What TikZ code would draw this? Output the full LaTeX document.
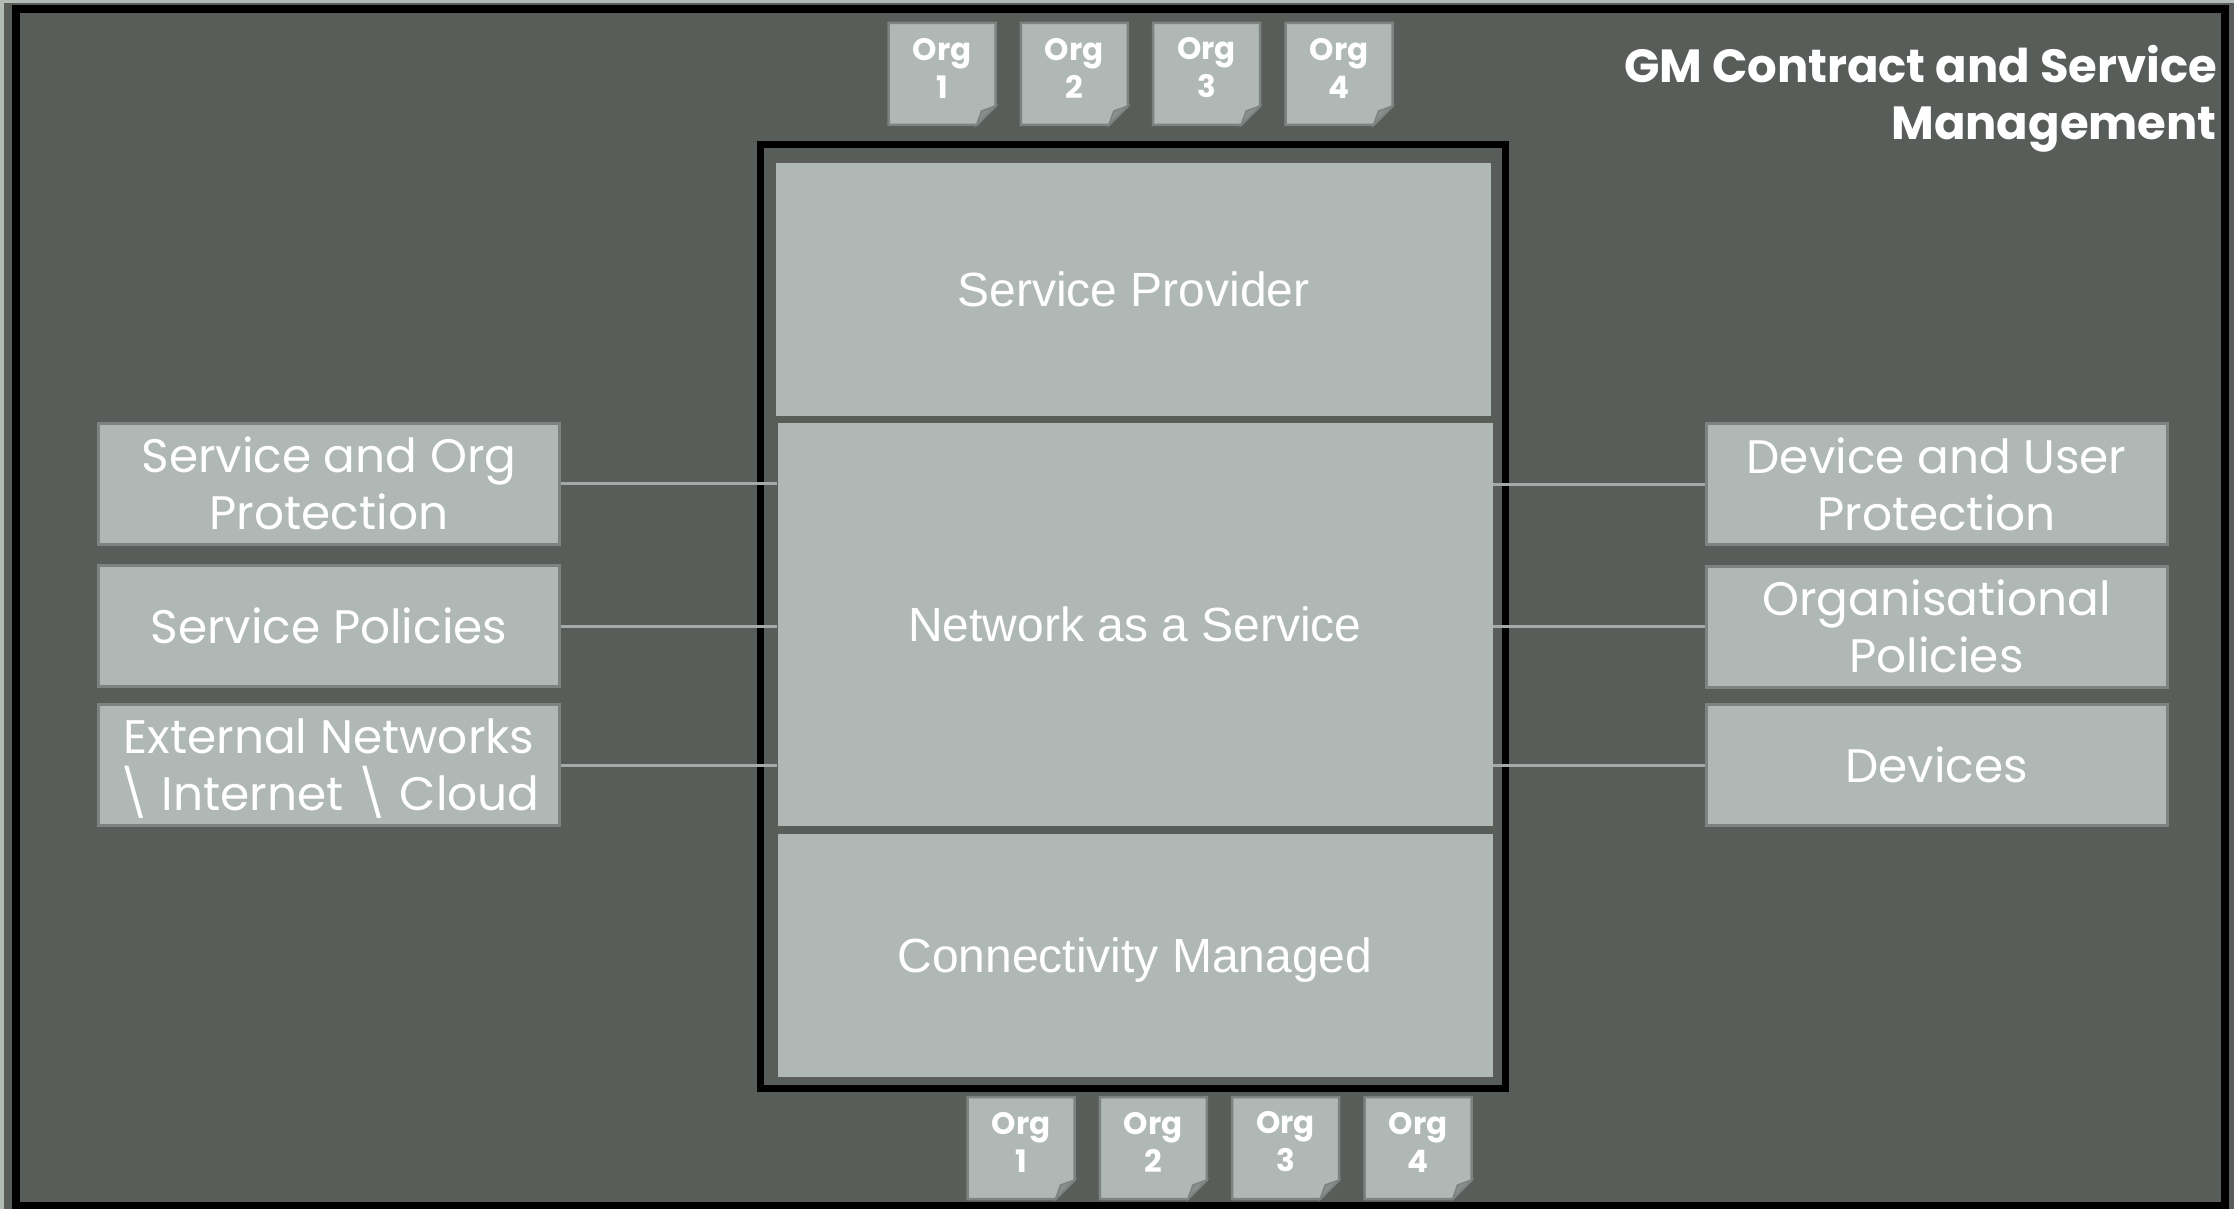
\documentclass[tikz,border=0pt]{standalone}
\usepackage{fontspec}
\setmainfont{Liberation Sans}
\newfontfamily\gothic{Poppins}
\definecolor{bgcol}{HTML}{585D5A}
\definecolor{edgelight}{HTML}{B3BBB7}
\definecolor{panelcol}{HTML}{AFB8B4}
\definecolor{boxedge}{HTML}{7D8380}
\definecolor{conncol}{HTML}{A4AAA7}
\definecolor{flapcol}{HTML}{878E8B}
\newcommand\orgbox[3]{%
  \begin{scope}[shift={(#2)}]
    \filldraw[orgshape] (-53.5,-51) -- (53.5,-51) -- (53.5,32) -- (34.5,51) -- (-53.5,51) -- cycle;
    \filldraw[orgflap] (53.5,32) -- (34.5,51) -- (39.5,37) -- cycle;
    \node[orgtext] (#1) at (0,-6) {Org\\#3};
  \end{scope}}
\newcommand\bsl{\smash{\textbackslash}}
\begin{document}
\begin{tikzpicture}[x=1pt,y=-1pt,
  panel/.style={fill=panelcol, inner sep=0pt, minimum width=715, text=white, text depth=0pt,
    font=\fontsize{48}{56}\selectfont},
  sidebox/.style={fill=panelcol, draw=boxedge, line width=3, minimum width=461, minimum height=121,
    inner sep=0pt, align=center, text=white, font=\gothic\fontsize{47}{57}\selectfont},
  conn/.style={draw=conncol, line width=3},
  orgshape/.style={fill=panelcol, draw=boxedge, line width=2.5, line join=miter},
  orgflap/.style={fill=flapcol, draw=boxedge, line width=1.5},
  orgtext/.style={inner sep=0pt, align=center, text=white, font=\gothic\bfseries\fontsize{31}{38}\selectfont},
  titletext/.style={anchor=base east, inner sep=0pt, text=white, font=\gothic\bfseries\fontsize{46.5}{55}\selectfont}]
\useasboundingbox (0,0) rectangle (2234,1209);
\fill[bgcol] (0,0) rectangle (2234,1209);
\fill[edgelight] (0,0) rectangle (4,1209);
\fill[edgelight] (0,0) rectangle (2234,3);
\draw[black, line width=8] (16,9) rectangle (2224.5,1206);

% central frame
\draw[black, line width=7] (760.5,144.5) rectangle (1505.5,1088.5);
\node[panel, minimum height=253] (sp) at (1133.5,289.5) {Service Provider};
\node[panel, minimum height=403] (naas) at (1135,624.5) {Network as a Service};
\node[panel, minimum height=243] (cm) at (1135,955.5) {Connectivity Managed};

% left boxes
\node[sidebox] (l1) at (329,483.5) {Service and Org\\Protection};
\node[sidebox] (l2) at (329,626) {Service Policies};
\node[sidebox] (l3) at (329,765) {External Networks\\\bsl\ Internet \bsl\ Cloud};

% right boxes
\node[sidebox] (r1) at (1936.5,484) {Device and User\\Protection};
\node[sidebox] (r2) at (1936.5,626.5) {Organisational\\Policies};
\node[sidebox] (r3) at (1936.5,765) {Devices};

% connectors
\draw[conn] (l1.east) -- (l1.east -| naas.west);
\draw[conn] (l2.east) -- (l2.east -| naas.west);
\draw[conn] (l3.east) -- (l3.east -| naas.west);
\draw[conn] (r1.west -| naas.east) -- (r1.west);
\draw[conn] (r2.west -| naas.east) -- (r2.west);
\draw[conn] (r3.west -| naas.east) -- (r3.west);

% title
\node[titletext] (t1) at (2217,83) {GM Contract and Service};
\node[titletext] (t2) at (2217,140) {Management};

% org boxes top
\orgbox{ot1}{942,74}{1}
\orgbox{ot2}{1074.3,74}{2}
\orgbox{ot3}{1206.6,74}{3}
\orgbox{ot4}{1339,74}{4}
% org boxes bottom
\orgbox{ob1}{1021,1148}{1}
\orgbox{ob2}{1153.3,1148}{2}
\orgbox{ob3}{1285.6,1148}{3}
\orgbox{ob4}{1418,1148}{4}
\end{tikzpicture}
\end{document}
